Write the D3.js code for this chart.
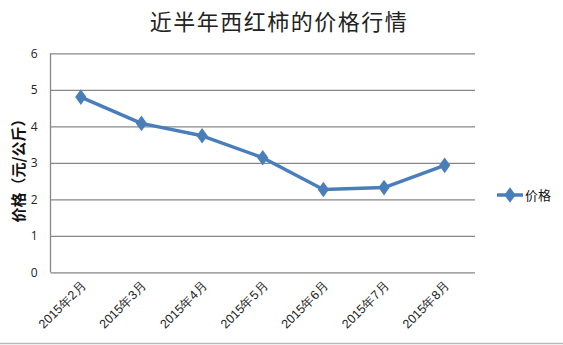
<!DOCTYPE html>
<html>
<head>
<meta charset="utf-8">
<script src="https://cdn.jsdelivr.net/npm/d3@7"></script>
<style>
  body { margin: 0; background: #fff; }
  svg { font-family: "Noto Sans CJK SC", "Open Sans", sans-serif; }
</style>
</head>
<body>
<div id="chart"></div>
<script>
// data
const months = ["2015年2月", "2015年3月", "2015年4月", "2015年5月", "2015年6月", "2015年7月", "2015年8月"];
const prices = [4.8, 4.08, 3.74, 3.14, 2.27, 2.32, 2.93];
const yTicks = [0, 1, 2, 3, 4, 5, 6];
const seriesName = "价格";

const dims = { width: 563, height: 345,
               margin: { top: 53, right: 88, bottom: 73, left: 50.5 } };
const blue = "#4A7EBB";
const grid = "#878787";

const svg = d3.select("#chart").append("svg")
  .attr("width", dims.width)
  .attr("height", dims.height);

let x = d3.scaleBand()
  .domain(months)
  .range([dims.margin.left, dims.width - dims.margin.right]);

let y = d3.scaleLinear()
  .domain([0, 6])
  .range([dims.height - dims.margin.bottom + 0.3, dims.margin.top + 0.3]);

// title
svg.append("text")
  .attr("x", 279)
  .attr("y", 30)
  .attr("text-anchor", "middle")
  .style("font-size", "22px")
  .style("letter-spacing", "1.5px")
  .attr("fill", "#222")
  .text("近半年西红柿的价格行情");

// y axis with gridlines
let yAxis = g => g
  .attr("transform", `translate(${dims.margin.left},0)`)
  .call(d3.axisLeft(y)
    .tickValues(yTicks)
    .tickFormat(d3.format("d"))
    .tickSize(-(x.range()[1] - x.range()[0]))
    .tickPadding(13))
  .call(g => g.select(".domain").remove())
  .call(g => g.selectAll(".tick line").attr("stroke", grid).attr("stroke-width", 1.3))
  .call(g => g.selectAll(".tick text")
    .attr("fill", "#222")
    .style("font-size", "12px")
    .style("font-family", "'Open Sans', sans-serif"));
svg.append("g").call(yAxis);

// left axis line
svg.append("line")
  .attr("x1", dims.margin.left).attr("x2", dims.margin.left)
  .attr("y1", y(6)).attr("y2", y(0))
  .attr("stroke", grid).attr("stroke-width", 1.3);

// x axis labels
let xAxis = g => g
  .attr("transform", `translate(0,${y(0)})`)
  .call(d3.axisBottom(x).tickSize(0).tickPadding(0))
  .call(g => g.select(".domain").remove())
  .call(g => g.selectAll(".tick text")
    .attr("text-anchor", "end")
    .attr("dy", 0)
    .attr("transform", "translate(6,14) rotate(-45)")
    .attr("fill", "#222")
    .style("font-size", "12.5px"));
svg.append("g").call(xAxis);

// y title
svg.append("text")
  .attr("transform", "translate(19,167) rotate(-90)")
  .attr("text-anchor", "middle")
  .attr("dy", "0.35em")
  .style("font-size", "15px")
  .style("font-weight", "bold")
  .attr("fill", "#111")
  .text("价格（元/公斤）");

// the line
let line = d3.line()
  .x((d, i) => x(months[i]) + x.bandwidth() / 2)
  .y(d => y(d));

svg.append("path")
  .datum(prices)
  .attr("fill", "none")
  .attr("stroke", blue)
  .attr("stroke-width", 3.5)
  .attr("stroke-linejoin", "round")
  .attr("d", line);

const diamond = d3.symbol().type(d3.symbolDiamond).size(70);
svg.selectAll(".pt")
  .data(prices)
  .enter()
  .append("path")
  .attr("class", "pt")
  .attr("transform", (d, i) => `translate(${x(months[i]) + x.bandwidth() / 2},${y(d)}) scale(1.25,1)`)
  .attr("d", diamond)
  .attr("fill", blue);

// legend
let legend = svg.append("g").attr("transform", "translate(497,195)");
legend.append("line")
  .attr("x1", 0).attr("x2", 26)
  .attr("stroke", blue).attr("stroke-width", 3.5);
legend.append("path")
  .attr("transform", "translate(13,0) scale(1.25,1)")
  .attr("d", diamond)
  .attr("fill", blue);
legend.append("text")
  .attr("x", 28)
  .attr("y", 0)
  .attr("dy", "0.35em")
  .style("font-size", "13px")
  .attr("fill", "#111")
  .text(seriesName);

// chart frame bottom edge
svg.append("line")
  .attr("x1", 0).attr("x2", dims.width)
  .attr("y1", 343.5).attr("y2", 343.5)
  .attr("stroke", "#bbb").attr("stroke-width", 1.5);
</script>
</body>
</html>
